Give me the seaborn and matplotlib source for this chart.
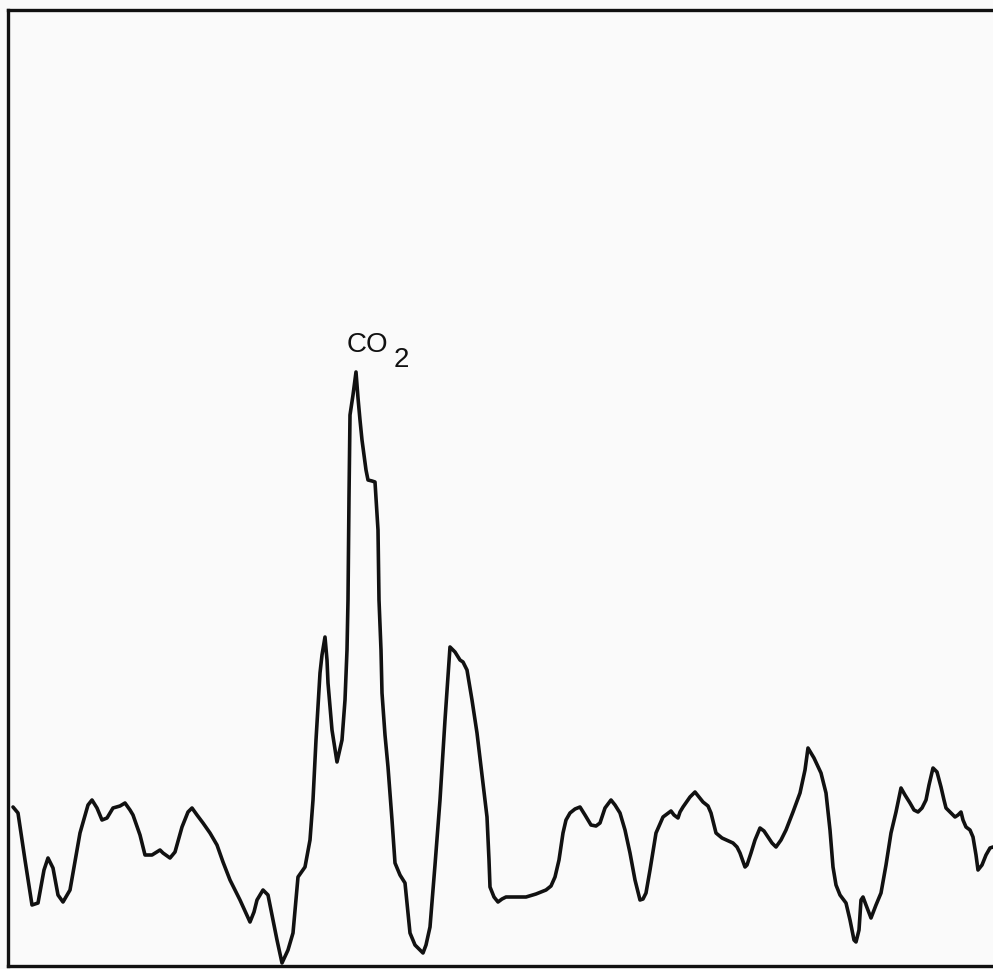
"""
CO2 trace - recorder chart redraw
"""

import pandas as pd
import matplotlib
matplotlib.use('Agg')
import matplotlib.pyplot as plt
import seaborn as sns

# ===========================
# DATA (pixel positions of the trace)
# ===========================
x_pix = [13, 18, 25, 32, 38, 44, 48, 53, 58, 63, 70, 80, 88, 92, 97, 102, 107, 113,
         120, 125, 130, 133, 140, 145, 152, 160, 163, 170, 175, 182, 188, 192, 197,
         203, 210, 217, 223, 230, 240, 250, 254, 257, 263, 268, 272, 277, 282, 288,
         293, 296, 298, 305, 310, 313, 316, 320, 322, 325, 327, 328, 332, 337, 342,
         345, 347, 348, 349, 350, 353, 356, 358, 360, 362, 366, 368, 372, 375, 378,
         379, 381, 382, 385, 388, 392, 395, 400, 405, 410, 415, 423, 426, 430, 435,
         440, 445, 450, 455, 460, 463, 467, 472, 477, 482, 487, 489, 490, 494, 498,
         502, 506, 516, 526, 536, 546, 551, 555, 559, 563, 566, 570, 575, 580, 585,
         591, 596, 600, 605, 611, 615, 620, 625, 630, 635, 640, 643, 646, 650, 656,
         663, 671, 674, 678, 680, 683, 690, 695, 699, 703, 708, 711, 716, 722, 733,
         737, 740, 745, 747, 751, 755, 760, 764, 768, 772, 776, 781, 786, 793, 800,
         805, 808, 814, 821, 826, 830, 833, 836, 840, 846, 850, 854, 856, 859, 861,
         863, 866, 871, 876, 881, 886, 891, 896, 901, 905, 910, 914, 918, 922, 926,
         929, 933, 937, 941, 944, 946, 950, 955, 958, 961, 963, 966, 970, 973, 976,
         978, 982, 986, 990, 993]
y_pix = [807, 813, 860, 905, 903, 870, 858, 868, 895, 902, 890, 833, 805, 800, 808, 820, 818, 808,
         806, 803, 810, 815, 835, 855, 855, 850, 853, 858, 852, 827, 812, 808, 815,
         823, 833, 845, 862, 880, 900, 922, 912, 900, 890, 895, 915, 940, 963, 950,
         933, 900, 877, 867, 840, 800, 740, 673, 655, 637, 660, 683, 730, 762, 740,
         700, 650, 600, 497, 415, 395, 372, 398, 420, 440, 470, 480, 481, 482, 530,
         600, 650, 693, 735, 767, 820, 863, 875, 883, 933, 945, 953, 945, 927, 865,
         800, 720, 647, 652, 660, 662, 670, 700, 733, 775, 817, 860, 887, 897, 902,
         899, 897, 897, 897, 894, 890, 886, 877, 860, 833, 820, 813, 809, 807, 815,
         825, 826, 823, 808, 800, 805, 813, 830, 853, 880, 900, 899, 893, 870, 833,
         817, 811, 815, 818, 812, 807, 797, 792, 797, 802, 806, 813, 833, 838, 843,
         847, 853, 867, 865, 853, 840, 828, 831, 837, 843, 847, 840, 830, 812, 793,
         770, 748, 758, 773, 793, 830, 867, 885, 895, 903, 920, 940, 942, 930, 900,
         897, 905, 918, 905, 893, 865, 833, 812, 788, 795, 803, 810, 812, 808, 800,
         785, 768, 772, 787, 800, 808, 812, 817, 815, 812, 820, 827, 830, 837, 855,
         870, 865, 855, 848, 847]

label_main = "CO"
label_sub = "2"

# convert picture pixels to chart units (origin at bottom-left corner of frame)
X0, Y0 = 8, 966
df = pd.DataFrame({
    'position': [x - X0 for x in x_pix],
    'signal': [Y0 - y for y in y_pix],
})

# ===========================
# PLOT
# ===========================
sns.set_style('white')
plt.rcParams['font.family'] = ['Liberation Sans', 'DejaVu Sans']

fig = plt.figure(figsize=(9.93, 9.69), dpi=100)
fig.patch.set_facecolor('#fafafa')
ax = fig.add_axes([8 / 993, 3 / 969, 985 / 993, 956 / 969])
ax.set_facecolor('#fafafa')

sns.lineplot(data=df, x='position', y='signal', sort=False, estimator=None,
             color='#111111', linewidth=2.6, solid_joinstyle='round',
             solid_capstyle='round', ax=ax)

ax.set_xlim(0, 985)
ax.set_ylim(0, 956)
ax.set_xticks([])
ax.set_yticks([])
ax.set_xlabel('')
ax.set_ylabel('')

for side in ['left', 'top', 'bottom']:
    ax.spines[side].set_color('#111111')
    ax.spines[side].set_linewidth(2.4)
ax.spines['right'].set_visible(False)

# peak label
ax.text(347 - X0, Y0 - 352, label_main, fontsize=20, color='#111111',
        ha='left', va='baseline')
ax.text(394 - X0, Y0 - 367, label_sub, fontsize=20, color='#111111',
        ha='left', va='baseline')

plt.savefig('out.png', dpi=100, facecolor=fig.get_facecolor())
